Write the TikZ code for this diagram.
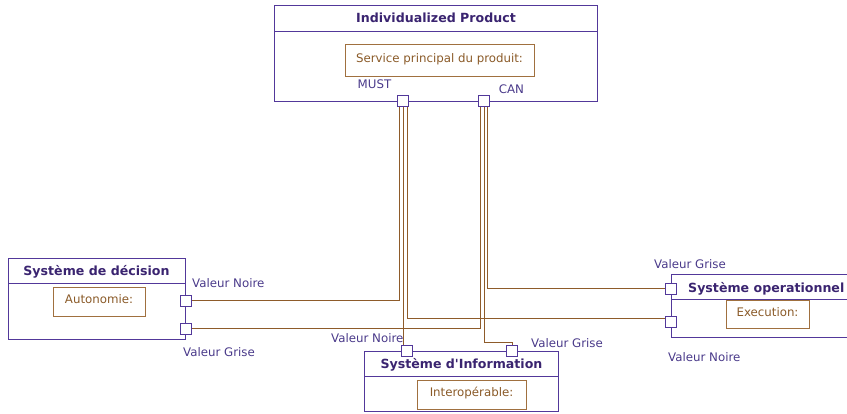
\documentclass[tikz,border=0pt]{standalone}
\usepackage{fontspec}
\setmainfont{DejaVu Sans}[Ligatures=TeXOff]
\usetikzlibrary{positioning,calc,backgrounds}

\definecolor{frameclr}{HTML}{52389A}
\definecolor{titleclr}{HTML}{3A2470}
\definecolor{boxclr}{HTML}{A0703F}
\definecolor{boxtxt}{HTML}{8A5A28}
\definecolor{wireclr}{HTML}{8E5B2A}
\definecolor{lblclr}{HTML}{4A3A8A}

\begin{document}
\begin{tikzpicture}[
  x=1pt, y=-1pt,
  blk/.style={draw=frameclr, line width=1pt, anchor=north west, inner sep=0pt},
  hdr/.style={draw=frameclr, line width=1pt},
  ttl/.style={font=\fontsize{12.6}{14}\selectfont\bfseries, text=titleclr,
              text height=9.4pt, text depth=2pt, inner sep=0pt},
  inbox/.style={draw=boxclr, line width=1pt, text=boxtxt,
                font=\fontsize{11.8}{13}\selectfont,
                text height=8.6pt, text depth=6pt, inner sep=0pt},
  port/.style={draw=frameclr, fill=white, line width=1pt,
               minimum size=11pt, inner sep=0pt},
  lbl/.style={text=lblclr, font=\fontsize{11.8}{13}\selectfont, inner sep=0pt},
  wire/.style={draw=wireclr, line width=1pt}
]
\useasboundingbox (0,0) rectangle (847,414);

% Individualized Product
\node[blk, minimum width=323pt, minimum height=96pt] (prod) at (274,5) {};
\draw[hdr] ([yshift=-27pt]prod.north west) -- ([yshift=-27pt]prod.north east);
\node[ttl] (prodttl) at (436,19) {Individualized Product};
\node[inbox, minimum width=189pt, minimum height=32pt] (svc) at (439.5,61)
  {Service principal du produit:};
\node[port] (must) at (403,101.5) {};
\node[port] (can) at (484,101.5) {};
\node[lbl] (mustlbl) at (374.5,84) {MUST};
\node[lbl] (canlbl) at (511.5,89) {CAN};

% Systeme de decision
\node[blk, minimum width=177pt, minimum height=81pt] (dec) at (8,258) {};
\draw[hdr] ([yshift=-26pt]dec.north west) -- ([yshift=-26pt]dec.north east);
\node[ttl] (decttl) at (96.5,271.5) {Système de décision};
\node[inbox, minimum width=92pt, minimum height=29pt] (auto) at (99,302.5)
  {Autonomie:};
\node[port] (decN) at (186,301) {};
\node[port] (decG) at (186,329) {};
\node[lbl, anchor=west] (decNlbl) at (192,283) {Valeur Noire};
\node[lbl, anchor=west] (decGlbl) at (183,352) {Valeur Grise};

% Systeme operationnel
\node[blk, minimum width=185pt, minimum height=63pt] (op) at (671,274) {};
\draw[hdr] ([yshift=-26pt]op.north west) -- ([yshift=-26pt]op.north east);
\node[ttl, anchor=west] (opttl) at (688,288.5) {Système operationnel};
\node[inbox, minimum width=83pt, minimum height=28pt] (exec) at (767.5,315)
  {Execution:};
\node[port] (opG) at (671,289) {};
\node[port] (opN) at (671,322) {};
\node[lbl, anchor=west] (opGlbl) at (654,264) {Valeur Grise};
\node[lbl, anchor=west] (opNlbl) at (668,357) {Valeur Noire};

% Systeme d'Information
\node[blk, minimum width=194pt, minimum height=60pt] (si) at (364,351) {};
\draw[hdr] ([yshift=-26pt]si.north west) -- ([yshift=-26pt]si.north east);
\node[ttl] (sittl) at (461.5,364.5) {Système d'Information};
\node[inbox, minimum width=109pt, minimum height=28pt] (interop) at (471.5,395)
  {Interopérable:};
\node[port] (siN) at (407,351) {};
\node[port] (siG) at (512,351) {};
\node[lbl, anchor=west] (siNlbl) at (331,338) {Valeur Noire};
\node[lbl, anchor=west] (siGlbl) at (531,343) {Valeur Grise};

% links
\begin{scope}[on background layer]
\draw[wire] ([xshift=-4pt]must.south) |- (decN.east);
\draw[wire] ([xshift=0pt]must.south) -- ([xshift=-4pt]siN.north);
\draw[wire] ([xshift=4pt]must.south) |- ([yshift=3pt]opN.west);
\draw[wire] ([xshift=-3.3pt]can.south) |- (decG.east);
\draw[wire] ([xshift=0pt]can.south) |- ([yshift=2.5pt]siG.north) -- (siG.north);
\draw[wire] ([xshift=3.3pt]can.south) |- (opG.west);
\end{scope}
\end{tikzpicture}
\end{document}
